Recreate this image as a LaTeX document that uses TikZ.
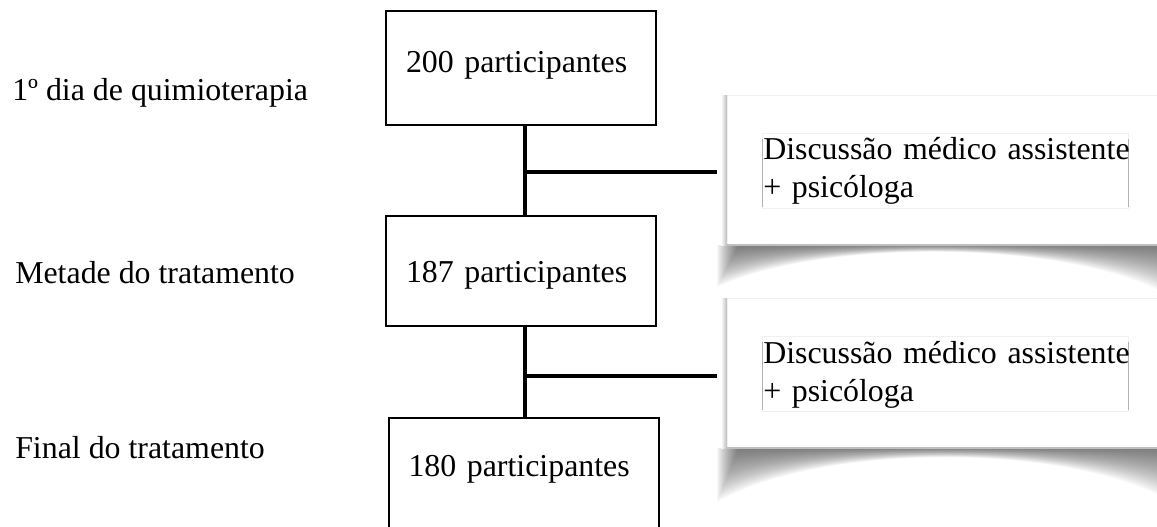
\documentclass[tikz,border=0pt]{standalone}
\usepackage{fontspec}
\setmainfont{Liberation Serif}
\begin{document}
\begin{tikzpicture}[x=0.75pt,y=-0.75pt,
  txt/.style={font=\fontsize{23.9pt}{28.5pt}\selectfont},
  stage/.style={txt,anchor=base west,inner sep=0pt},
  countbox/.style={txt,draw=black,line width=1.5pt,inner ysep=0pt,inner xsep=15pt,
     text width=172.5pt,align=left,minimum width=202.5pt,text depth=0pt},
  note/.style={draw=gray!12,line width=0.6pt,fill=white,minimum width=328.5pt,minimum height=112.5pt,inner sep=0pt},
  notetext/.style={txt,anchor=base west,inner sep=0pt,text width=300pt,align=left},
  link/.style={line width=3pt}]
\useasboundingbox (0,0) rectangle (1157,526);
\clip (0,0) rectangle (1157,526);

% soft curved shadows under the two side notes
\foreach \top/\lft/\rgt/\ctl in {245/42/48/-6, 448/54/50/-5}{
  \foreach \k in {0,...,21}{
    \pgfmathsetmacro\f{1-\k/22}
    \fill[black,opacity=0.03]
      (717+\k,\top) -- (1165,\top) -- (1165,\top+\rgt*\f)
      .. controls (1060,\top+\ctl*\f) and (820,\top+\ctl*\f) .. (717+\k,\top+\lft*\f) -- cycle;
  }
}

% stage labels
\node[stage] (s1) at (12,100) {1º dia de quimioterapia};
\node[stage] (s2) at (15,283) {Metade do tratamento};
\node[stage] (s3) at (15,458) {Final do tratamento};

% participant boxes
\node[countbox,minimum height=85.5pt,text height=6pt] (b1) at (521,68) {200 participantes};
\node[countbox,minimum height=82.5pt,text height=16.5pt] (b2) at (521,271) {187 participantes};
\node[countbox,minimum height=91.5pt,minimum width=201.75pt,text height=0pt,text depth=4.5pt] (b3) at (523.5,479) {180 participantes};

% side notes
\foreach \n/\y/\t in {c1/170/133, c2/373/336}{
  \shade[left color=white,right color=gray!55] (721,\y-75) rectangle (727,\y+75);
  \node[note] (\n) at (946,\y) {};
  \draw[gray!50,line width=0.8pt] (727,\y+75) -- (1165,\y+75);
  \draw[gray!12,line width=0.6pt] (762,\t) rectangle (1128,\t+75);
  \draw[gray!60,line width=0.6pt] (762,\t+6) -- (762,\t+74) (1128,\t+6) -- (1128,\t+74);
}
\node[notetext] (n1) at (763,159) {Discussão médico assistente\\+ psicóloga};
\node[notetext] (n2) at (763,363) {Discussão médico assistente\\+ psicóloga};

% connectors
\coordinate (j1) at (525,172);
\coordinate (j2) at (525,376);
\draw[link] (b1.south -| j1) -- (b2.north -| j1);
\draw[link] (b2.south -| j2) -- (b3.north -| j2);
\draw[link,shorten >=7.5pt] (j1) -- (c1.west |- j1);
\draw[link,shorten >=7.5pt] (j2) -- (c2.west |- j2);
\end{tikzpicture}
\end{document}
